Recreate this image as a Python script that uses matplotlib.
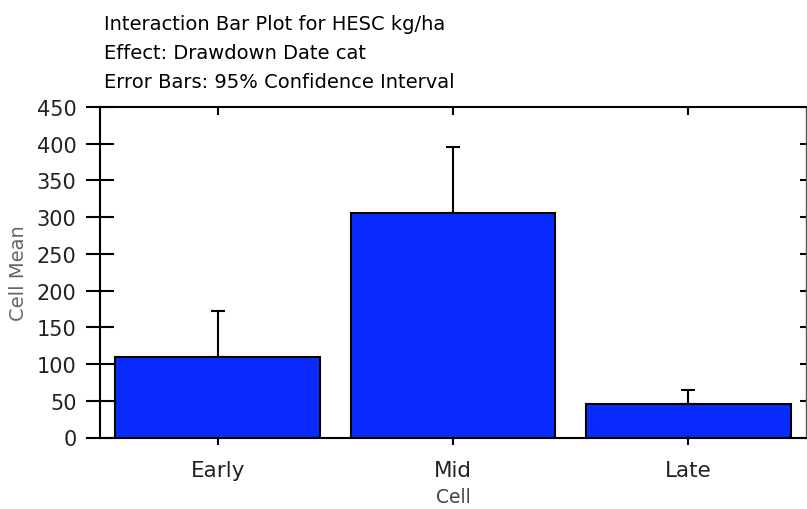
import matplotlib
matplotlib.use("Agg")
import matplotlib.pyplot as plt
import numpy as np

categories = ["Early", "Mid", "Late"]
means = [109, 305, 45]
upper_ci = [172, 396, 64]
yticks = [0, 50, 100, 150, 200, 250, 300, 350, 400, 450]
title_lines = ["Interaction Bar Plot for HESC kg/ha",
               "Effect: Drawdown Date cat",
               "Error Bars: 95% Confidence Interval"]

plt.rcParams['font.family'] = ['DejaVu Sans']

fig = plt.figure(figsize=(8.07, 5.10), dpi=100)
ax = fig.add_axes([100/807, 1-438.5/510, 706/807, 330.5/510])

x = np.arange(len(categories))
err_up = np.array(upper_ci) - np.array(means)
ax.bar(x, means, width=0.87, color='#0a2bff', edgecolor='black', linewidth=1.5, zorder=2)
ax.errorbar(x, means, yerr=[np.zeros_like(err_up), err_up], fmt='none',
            ecolor='black', elinewidth=1.5, capsize=5, capthick=1.5, zorder=3)

ax.set_xlim(-0.5, 2.5)
ax.set_ylim(0, 450)
ax.set_yticks(yticks)
ax.set_yticklabels([str(t) for t in yticks], fontsize=15, color='#222222')
ax.set_xticks(x)
ax.set_xticklabels(categories, fontsize=15.5, color='#222222')
ax.tick_params(axis='y', direction='inout', length=20, width=1.5, pad=7)
ax.tick_params(axis='x', direction='out', length=5, width=1.5, pad=11)

for s in ['left', 'bottom', 'top']:
    ax.spines[s].set_linewidth(1.5)
ax.spines['right'].set_linewidth(1.0)
ax.spines['right'].set_color('#555555')

sec = ax.secondary_xaxis('top')
sec.set_xticks(x)
sec.set_xticklabels([])
sec.tick_params(direction='in', length=6, width=1.5)
sec.spines['top'].set_visible(False)
secy = ax.secondary_yaxis('right')
secy.set_yticks(yticks)
secy.set_yticklabels([])
secy.tick_params(direction='in', length=4, width=1.5)
secy.spines['right'].set_visible(False)

ax.set_ylabel("Cell Mean", fontsize=14, color='#666666')
ax.yaxis.set_label_coords(-72/706, 0.5)
ax.set_xlabel("Cell", fontsize=13.5, color='#444444', labelpad=5)

for i, line in enumerate(title_lines):
    fig.text(104/807, 1 - (30 + 29*i)/510, line, fontsize=14, color='black',
             ha='left', va='baseline')

fig.savefig("out.png", dpi=100)
